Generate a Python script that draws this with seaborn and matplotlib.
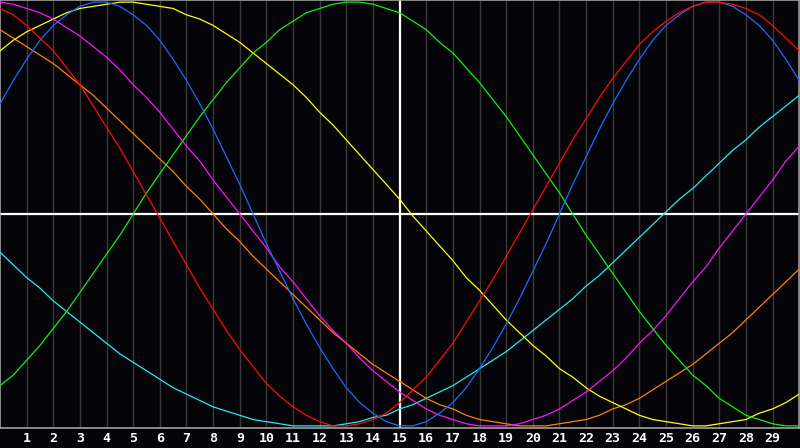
import numpy as np
import pandas as pd
import matplotlib
matplotlib.use("Agg")
import matplotlib.pyplot as plt
import seaborn as sns

# readings every half day, from day 0 to day 30
days = [i / 2 for i in range(61)]
tick_labels = [str(d) for d in range(1, 30)]

physical = [52, 63, 73, 82, 89, 94, 98, 100, 100, 98, 94, 89, 82, 73, 63, 52, 40, 27, 14, 0,
            -14, -27, -40, -52, -63, -73, -82, -89, -94, -98, -100, -100, -98, -94, -89, -82,
            -73, -63, -52, -40, -27, -14, 0, 14, 27, 40, 52, 63, 73, 82, 89, 94, 98, 100, 100,
            98, 94, 89, 82, 73, 63]
emotional = [97, 94, 89, 83, 77, 69, 61, 51, 41, 31, 20, 9, -2, -13, -24, -35, -45, -55, -64,
             -72, -80, -86, -91, -95, -98, -100, -100, -99, -97, -94, -89, -83, -77, -69, -61,
             -51, -41, -31, -20, -9, 2, 13, 24, 35, 45, 55, 64, 72, 80, 86, 91, 95, 98, 100,
             100, 99, 97, 94, 89, 83, 77]
intellectual = [-81, -76, -69, -62, -54, -46, -37, -28, -19, -10, 0, 10, 19, 28, 37, 46, 54, 62,
                69, 76, 81, 87, 91, 95, 97, 99, 100, 100, 99, 97, 95, 91, 87, 81, 76, 69, 62,
                54, 46, 37, 28, 19, 10, 0, -10, -19, -28, -37, -46, -54, -62, -69, -76, -81,
                -87, -91, -95, -97, -99, -100, -100]
aesthetic = [77, 82, 86, 89, 92, 95, 97, 98, 99, 100, 100, 99, 98, 97, 94, 92, 89, 85, 81, 76,
             71, 66, 61, 55, 48, 42, 35, 28, 21, 14, 7, -1, -8, -15, -22, -30, -36, -43, -50,
             -56, -62, -67, -73, -77, -82, -86, -89, -92, -95, -97, -98, -99, -100, -100, -99,
             -98, -97, -94, -92, -89, -85]
intuitive = [100, 99, 97, 95, 92, 88, 84, 79, 74, 68, 61, 55, 48, 40, 32, 25, 16, 8, 0, -8,
             -16, -25, -32, -40, -48, -55, -61, -68, -74, -79, -84, -88, -92, -95, -97, -99,
             -100, -100, -100, -99, -97, -95, -92, -88, -84, -79, -74, -68, -61, -55, -48, -40,
             -32, -25, -16, -8, 0, 8, 16, 25, 32]
awareness = [87, 83, 79, 75, 71, 66, 61, 56, 50, 44, 38, 32, 26, 20, 13, 7, 0, -7, -13, -20,
             -26, -32, -38, -44, -50, -56, -61, -66, -71, -75, -79, -83, -87, -90, -92, -95,
             -97, -98, -99, -100, -100, -100, -99, -98, -97, -95, -92, -90, -87, -83, -79, -75,
             -71, -66, -61, -56, -50, -44, -38, -32, -26]
spiritual = [-18, -24, -30, -35, -41, -46, -51, -56, -61, -66, -70, -74, -78, -82, -85, -88,
             -91, -93, -95, -97, -98, -99, -100, -100, -100, -100, -99, -98, -96, -95, -92, -90,
             -87, -84, -81, -77, -73, -69, -65, -60, -55, -50, -45, -40, -34, -29, -23, -17,
             -11, -5, 1, 7, 12, 18, 24, 30, 35, 41, 46, 51, 56]

series = {
    "spiritual": spiritual,
    "awareness": awareness,
    "aesthetic": aesthetic,
    "intuitive": intuitive,
    "intellectual": intellectual,
    "physical": physical,
    "emotional": emotional,
}
palette = {
    "physical": "#1a6cff",
    "emotional": "#ff0a0a",
    "intellectual": "#10ee10",
    "aesthetic": "#ffff10",
    "intuitive": "#ff10ff",
    "awareness": "#ff8010",
    "spiritual": "#20eeee",
}

rows = []
for name, vals in series.items():
    for d, v in zip(days, vals):
        rows.append({"day": d, "value": v, "cycle": name})
df = pd.DataFrame(rows)

sns.set_style("dark")
bg = "#050408"
fig = plt.figure(figsize=(8.0, 4.48), dpi=100, facecolor=bg)
ax = fig.add_axes([0.0, 1 - 428 / 448, 0.999, 428 / 448])
ax.set_facecolor(bg)

for d in range(1, 30):
    ax.axvline(d, color="#3a3a3a", lw=1.0, zorder=1)

sns.lineplot(data=df, x="day", y="value", hue="cycle", palette=palette,
             hue_order=list(series.keys()), linewidth=0.9, legend=False,
             ax=ax, zorder=3, estimator=None, sort=True)

ax.axhline(0, color="white", lw=1.6, zorder=2)
ax.axvline(15, color="white", lw=1.6, zorder=2)

ax.set_xlim(0, 30)
ax.set_ylim(-101, 101)
ax.set_xticks(range(1, 30))
ax.set_xticklabels(tick_labels, color="white", fontsize=9.5, fontweight="bold",
                   family="DejaVu Sans Mono")
ax.tick_params(axis="x", length=0, pad=3)
ax.set_yticks([])
ax.set_xlabel("")
ax.set_ylabel("")
ax.grid(False)
for s in ax.spines.values():
    s.set_color("#a0a0a0")
    s.set_linewidth(1.2)
    s.set_visible(True)

fig.savefig("out.png", dpi=100, facecolor=bg)
